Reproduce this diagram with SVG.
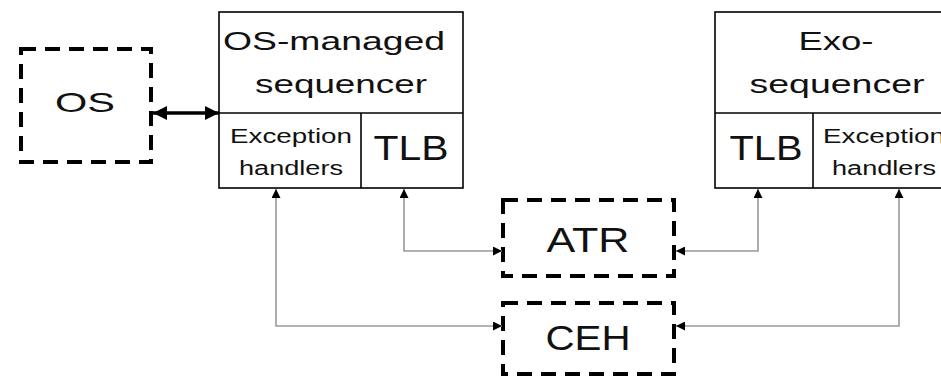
<svg xmlns="http://www.w3.org/2000/svg" width="941" height="380" viewBox="0 0 941 380">
<style>
.dash{fill:none;stroke:#000;stroke-width:4;stroke-dasharray:15 9}
.box{fill:#fff;stroke:#000;stroke-width:1.6}
.t{font-family:"Liberation Sans",Arial,sans-serif;fill:#111;text-anchor:middle}
.c{fill:none;stroke:#999;stroke-width:1.6}
</style>
<defs>
<marker id="ah" viewBox="0 0 10 10" refX="10" refY="5" markerWidth="9" markerHeight="9" markerUnits="userSpaceOnUse" orient="auto-start-reverse"><path d="M0,0L10,5L0,10z" fill="#000"/></marker>
<marker id="ab" viewBox="0 0 10 10" refX="10" refY="5" markerWidth="14" markerHeight="14" markerUnits="userSpaceOnUse" orient="auto-start-reverse"><path d="M0,0L10,5L0,10z" fill="#000"/></marker>
</defs>
<g id="os">
<rect class="dash" x="21" y="49" width="130" height="113"/>
<text class="t" x="85" y="112" font-size="28" textLength="60" lengthAdjust="spacingAndGlyphs">OS</text>
</g>
<g id="os-managed-sequencer">
<rect class="box" x="219" y="12" width="244" height="176"/>
<line x1="219" y1="113" x2="463" y2="113" stroke="#000" stroke-width="1.6"/>
<line x1="361" y1="113" x2="361" y2="188" stroke="#000" stroke-width="1.6"/>
<text class="t" x="334" y="50" font-size="25" textLength="222" lengthAdjust="spacingAndGlyphs">OS-managed</text>
<text class="t" x="341" y="93" font-size="25" textLength="172" lengthAdjust="spacingAndGlyphs">sequencer</text>
<text class="t" x="291" y="143" font-size="20" textLength="122" lengthAdjust="spacingAndGlyphs">Exception</text>
<text class="t" x="291" y="175" font-size="20" textLength="104" lengthAdjust="spacingAndGlyphs">handlers</text>
<text class="t" x="411" y="160" font-size="35" textLength="75" lengthAdjust="spacingAndGlyphs">TLB</text>
</g>
<g id="exo-sequencer">
<rect class="box" x="715" y="12" width="244" height="176"/>
<line x1="715" y1="113" x2="959" y2="113" stroke="#000" stroke-width="1.6"/>
<line x1="813" y1="113" x2="813" y2="188" stroke="#000" stroke-width="1.6"/>
<text class="t" x="836" y="50" font-size="25" textLength="75" lengthAdjust="spacingAndGlyphs">Exo-</text>
<text class="t" x="837" y="93" font-size="25" textLength="175" lengthAdjust="spacingAndGlyphs">sequencer</text>
<text class="t" x="884" y="143" font-size="20" textLength="122" lengthAdjust="spacingAndGlyphs">Exception</text>
<text class="t" x="884" y="175" font-size="20" textLength="104" lengthAdjust="spacingAndGlyphs">handlers</text>
<text class="t" x="766" y="160" font-size="35" textLength="73" lengthAdjust="spacingAndGlyphs">TLB</text>
</g>
<g id="atr">
<rect class="dash" x="503" y="200" width="171" height="76"/>
<text class="t" x="588" y="252" font-size="35" textLength="83" lengthAdjust="spacingAndGlyphs">ATR</text>
</g>
<g id="ceh">
<rect class="dash" x="503" y="303" width="171" height="71"/>
<text class="t" x="588" y="350" font-size="35" textLength="85" lengthAdjust="spacingAndGlyphs">CEH</text>
</g>
<g id="connectors">
<line x1="153" y1="113" x2="219" y2="113" stroke="#000" stroke-width="3.5" marker-start="url(#ab)" marker-end="url(#ab)"/>
<polyline class="c" points="276,189 276,326 502,326" marker-start="url(#ah)" marker-end="url(#ah)"/>
<polyline class="c" points="404,189 404,251 502,251" marker-start="url(#ah)" marker-end="url(#ah)"/>
<polyline class="c" points="758,189 758,251 676,251" marker-start="url(#ah)" marker-end="url(#ah)"/>
<polyline class="c" points="899,189 899,326 676,326" stroke-width="2.5" stroke="#aaa" marker-start="url(#ah)" marker-end="url(#ah)"/>
</g>
</svg>
